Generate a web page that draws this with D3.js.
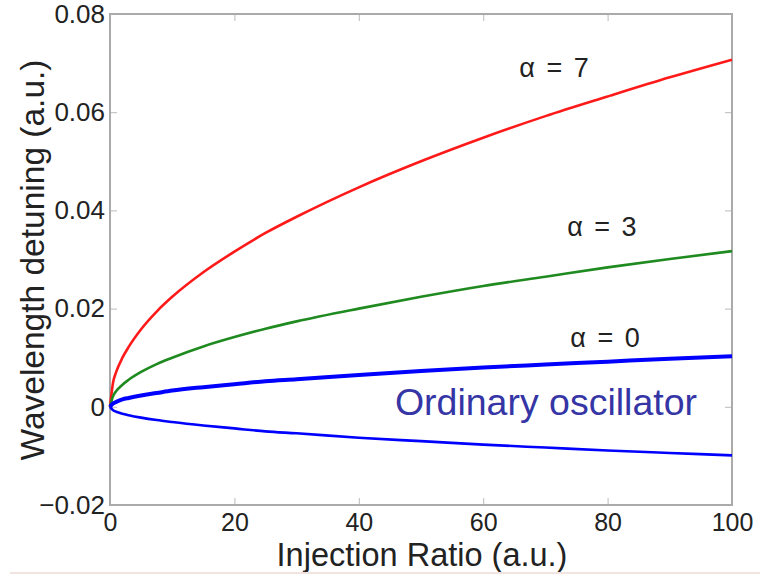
<!DOCTYPE html>
<html>
<head>
<meta charset="utf-8">
<script src="https://cdn.jsdelivr.net/npm/d3@7"></script>
<style>
  body { margin: 0; background: #fff; }
  text { font-family: "Liberation Sans", Arial, sans-serif; }
</style>
</head>
<body>
<div id="chart"></div>
<script>
var w = 760;
var h = 578;

// Injection ratio samples (a.u.)
var injection = [0, 0.5, 1, 2, 3, 5, 7.5, 10, 15, 20, 25, 30, 40, 50, 60, 70, 80, 90, 100];

// Wavelength detuning
var alpha7 = [0, 0.0050, 0.0071, 0.0100, 0.0122, 0.0158, 0.0194, 0.0224, 0.0274, 0.0316, 0.0354, 0.0387, 0.0447, 0.0500, 0.0548, 0.0592, 0.0632, 0.0671, 0.0707];
var alpha3 = [0, 0.0022, 0.0032, 0.0045, 0.0055, 0.0071, 0.0087, 0.0100, 0.0123, 0.0142, 0.0159, 0.0174, 0.0200, 0.0224, 0.0246, 0.0265, 0.0284, 0.0301, 0.0317];
var alpha0 = [0, 0.0007, 0.0010, 0.0015, 0.0018, 0.0023, 0.0028, 0.0033, 0.0040, 0.0046, 0.0052, 0.0056, 0.0065, 0.0073, 0.0080, 0.0086, 0.0092, 0.0098, 0.0103];
var ordinary = [0, -0.0007, -0.0010, -0.0014, -0.0017, -0.0022, -0.0027, -0.0031, -0.0038, -0.0044, -0.0050, -0.0054, -0.0063, -0.0070, -0.0077, -0.0083, -0.0089, -0.0094, -0.0099];

var xTicks = [0, 20, 40, 60, 80, 100];
var yTicks = [-0.02, 0, 0.02, 0.04, 0.06, 0.08];

var series = [
  { name: "α = 7", values: alpha7, color: "#ff1a1a", width: 2.6 },
  { name: "α = 3", values: alpha3, color: "#1f8a1f", width: 2.6 },
  { name: "α = 0", values: alpha0, color: "#0000ff", width: 4 },
  { name: "Ordinary oscillator", values: ordinary, color: "#0000ff", width: 2.6 }
];

var margin = { top: 14, right: 28, bottom: 73, left: 110 };

var svg = d3
  .select("#chart")
  .append("svg")
  .attr("width", w)
  .attr("height", h);

// Define scales
const xScale = d3
  .scaleLinear()
  .domain([0, 100])
  .range([margin.left, w - margin.right]);

const yScale = d3
  .scaleLinear()
  .domain([-0.02, 0.08])
  .range([h - margin.bottom, margin.top]);

var x0 = margin.left, x1 = w - margin.right;
var y0 = h - margin.bottom, y1 = margin.top;

// Inward ticks on all four sides
var tickLen = 7;
var tickColor = "#bbb";

svg.append("g")
  .attr("transform", "translate(0," + y0 + ")")
  .call(d3.axisBottom(xScale).tickValues(xTicks).tickSize(-tickLen).tickFormat(d3.format("d")).tickPadding(8))
  .call(function (g) {
    g.select(".domain").remove();
    g.selectAll("line").attr("stroke", tickColor);
    g.selectAll("text").attr("font-size", 25).attr("fill", "#222");
  });

svg.append("g")
  .attr("transform", "translate(0," + y1 + ")")
  .call(d3.axisTop(xScale).tickValues(xTicks).tickSize(-tickLen).tickFormat(""))
  .call(function (g) {
    g.select(".domain").remove();
    g.selectAll("line").attr("stroke", tickColor);
  });

svg.append("g")
  .attr("transform", "translate(" + x0 + ",0)")
  .call(d3.axisLeft(yScale).tickValues(yTicks).tickSize(-tickLen).tickPadding(5)
    .tickFormat(function (d) { return d === 0 ? "0" : d3.format(".2f")(d).replace("-", "\u2212"); }))
  .call(function (g) {
    g.select(".domain").remove();
    g.selectAll("line").attr("stroke", tickColor);
    g.selectAll("text").attr("font-size", 26).attr("fill", "#222");
  });

svg.append("g")
  .attr("transform", "translate(" + x1 + ",0)")
  .call(d3.axisRight(yScale).tickValues(yTicks).tickSize(-tickLen).tickFormat(""))
  .call(function (g) {
    g.select(".domain").remove();
    g.selectAll("line").attr("stroke", tickColor);
  });

// Frame
svg.append("rect")
  .attr("x", x0)
  .attr("y", y1)
  .attr("width", x1 - x0)
  .attr("height", y0 - y1)
  .attr("fill", "none")
  .attr("stroke", "#aaa")
  .attr("stroke-width", 2);

// Lines
var line = d3.line()
  .x(function (d, i) { return xScale(injection[i]); })
  .y(function (d) { return yScale(d); })
  .curve(d3.curveMonotoneX);

svg.selectAll("path.series")
  .data(series)
  .enter()
  .append("path")
  .attr("class", "series")
  .attr("d", function (d) { return line(d.values); })
  .attr("fill", "none")
  .attr("stroke", function (d) { return d.color; })
  .attr("stroke-width", function (d) { return d.width; });

// Curve labels
var labels = [
  { text: "α = 7", x: 65.8, y: 0.0672, color: "#222", size: 27 },
  { text: "α = 3", x: 73.5, y: 0.0348, color: "#222", size: 27 },
  { text: "α = 0", x: 74, y: 0.0121, color: "#222", size: 27 },
  { text: "Ordinary oscillator", x: 45.8, y: -0.0017, color: "#3535a5", size: 37.5 }
];

svg.selectAll("text.label")
  .data(labels)
  .enter()
  .append("text")
  .attr("class", "label")
  .attr("x", function (d) { return xScale(d.x); })
  .attr("y", function (d) { return yScale(d.y); })
  .attr("font-size", function (d) { return d.size; })
  .attr("fill", function (d) { return d.color; })
  .attr("word-spacing", function (d) { return d.size < 30 ? 4 : 0; })
  .text(function (d) { return d.text; });

// Axis titles
svg.append("text")
  .attr("x", (x0 + x1) / 2 + 1)
  .attr("y", 566)
  .attr("text-anchor", "middle")
  .attr("font-size", 32.5)
  .attr("fill", "#222")
  .text("Injection Ratio (a.u.)");

svg.append("text")
  .attr("transform", "translate(44,260) rotate(-90)")
  .attr("text-anchor", "middle")
  .attr("font-size", 33.5)
  .attr("fill", "#222")
  .text("Wavelength detuning (a.u.)");

// faint strip at the bottom edge
svg.append("line")
  .attr("x1", 10)
  .attr("x2", 760)
  .attr("y1", 573)
  .attr("y2", 573)
  .attr("stroke", "#f1e4e0")
  .attr("stroke-width", 2);
</script>
</body>
</html>
